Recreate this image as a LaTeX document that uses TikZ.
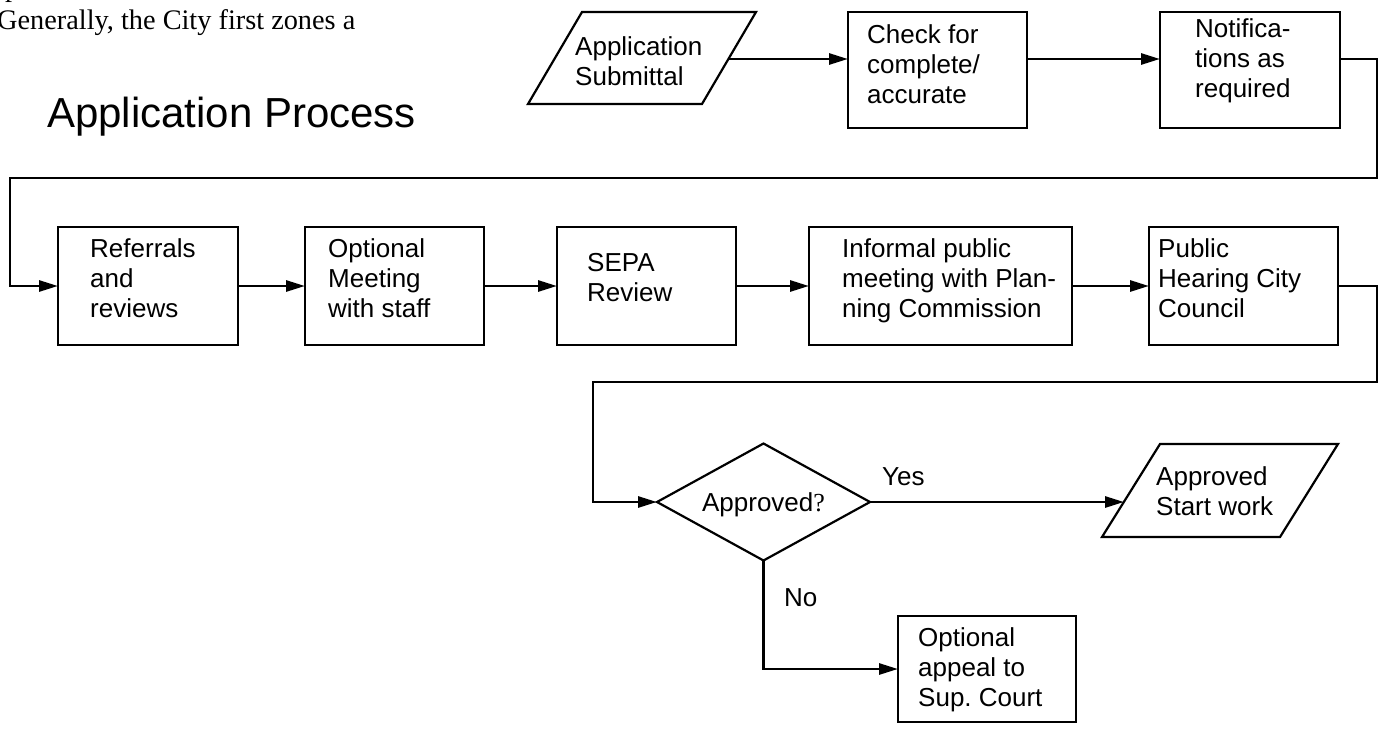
\documentclass[tikz,border=0pt]{standalone}
\usepackage{fontspec}
\setmainfont{Liberation Sans}
\newfontfamily\tnrfont{Liberation Serif}
\usetikzlibrary{arrows.meta,shapes.geometric}
\frenchspacing
\begin{document}
\begin{tikzpicture}[x=1pt,y=-1pt,
  box/.style={draw, line width=2.8pt, inner sep=0pt, outer sep=0pt, anchor=north west},
  txt/.style={inner sep=0pt, anchor=base west, align=left, font=\fontsize{26}{30}\selectfont},
  serifline/.style={inner sep=0pt, anchor=base west, font=\tnrfont\fontsize{28.3}{32}\selectfont},
  conn/.style={line width=2.8pt, line join=miter},
  arr/.style={conn, -{Triangle[length=19pt,width=11pt]}},
  thinshape/.style={draw, line width=2.2pt, line join=miter}]

\useasboundingbox (0,0) rectangle (1386,728);

% intro text
\node[serifline] (prev) at (5,-3) {p};
\node[serifline] (gen) at (-3,29) {Generally, the City first zones a};
\node[inner sep=0pt, anchor=base west, font=\fontsize{42}{50}\selectfont] (title) at (47,127) {Application Process};

% top row (text nodes anchored at the baseline of their last line)
\draw[thinshape] (582,12) -- (756,12) -- (702,104) -- (528,104) -- cycle;
\coordinate (subR) at (728.5,59);
\node[txt] (sub) at (575,85) {Application\\Submittal};

\node[box, minimum width=179pt, minimum height=116pt] (chk) at (848,12) {};
\node[txt] (chkt) at (867,103) {Check for\\complete/\\accurate};

\node[box, minimum width=180pt, minimum height=116pt] (notif) at (1160,12) {};
\node[txt] (notift) at (1195,97) {Notifica-\\tions as\\required};

% middle row
\node[box, minimum width=180pt, minimum height=118pt] (ref) at (58,227) {};
\node[txt] (reft) at (90,317) {Referrals\\and\\reviews};

\node[box, minimum width=179pt, minimum height=118pt] (opt) at (305,227) {};
\node[txt] (optt) at (328,317) {Optional\\Meeting\\with staff};

\node[box, minimum width=179pt, minimum height=118pt] (sepa) at (557,227) {};
\node[txt] (sepat) at (587,301) {SEPA\\Review};

\node[box, minimum width=263pt, minimum height=118pt] (inf) at (809,227) {};
\node[txt] (inft) at (842,317) {Informal public\\meeting with Plan-\\ning Commission};

\node[box, minimum width=189pt, minimum height=118pt] (pub) at (1149,227) {};
\node[txt] (pubt) at (1158,317) {Public\\Hearing City\\Council};

% decision
\node[draw, diamond, line width=2.2pt, inner sep=0pt, outer sep=0pt, aspect=1.82,
      minimum width=213pt, minimum height=117pt,
      font=\fontsize{26}{30}\selectfont, text height=18.6pt, text depth=0pt]
      (dia) at (763.5,502) {Approved{\tnrfont ?}};

\draw[thinshape] (1160,444) -- (1338,444) -- (1280,537) -- (1102,537) -- cycle;
\coordinate (appL) at (1124,502);
\node[txt] (appt) at (1156,515) {Approved\\Start work};

\node[box, minimum width=178pt, minimum height=106pt] (apl) at (898,616) {};
\node[txt] (aplt) at (918,706) {Optional\\appeal to\\Sup. Court};

\node[txt] (yes) at (882,485) {Yes};
\node[txt] (no) at (784,606) {No};

% connectors
\draw[arr] (subR) -- (subR -| chk.west);
\draw[arr] (chk.east |- subR) -- (notif.west |- subR);
\draw[arr] (notif.east |- subR) -- (1377,59) -- (1377,178) -- (10,178) -- (10,286) -- (ref.west);
\draw[arr] (ref.east) -- (opt.west);
\draw[arr] (opt.east) -- (sepa.west);
\draw[arr] (sepa.east) -- (inf.west);
\draw[arr] (inf.east) -- (pub.west);
\draw[arr] (pub.east) -- (1377,286) -- (1377,382) -- (593,382) -- (593,502) -- (dia.west);
\draw[arr] (dia.east) -- (appL);
\draw[arr] (dia.south) |- (apl.west);
\end{tikzpicture}
\end{document}
